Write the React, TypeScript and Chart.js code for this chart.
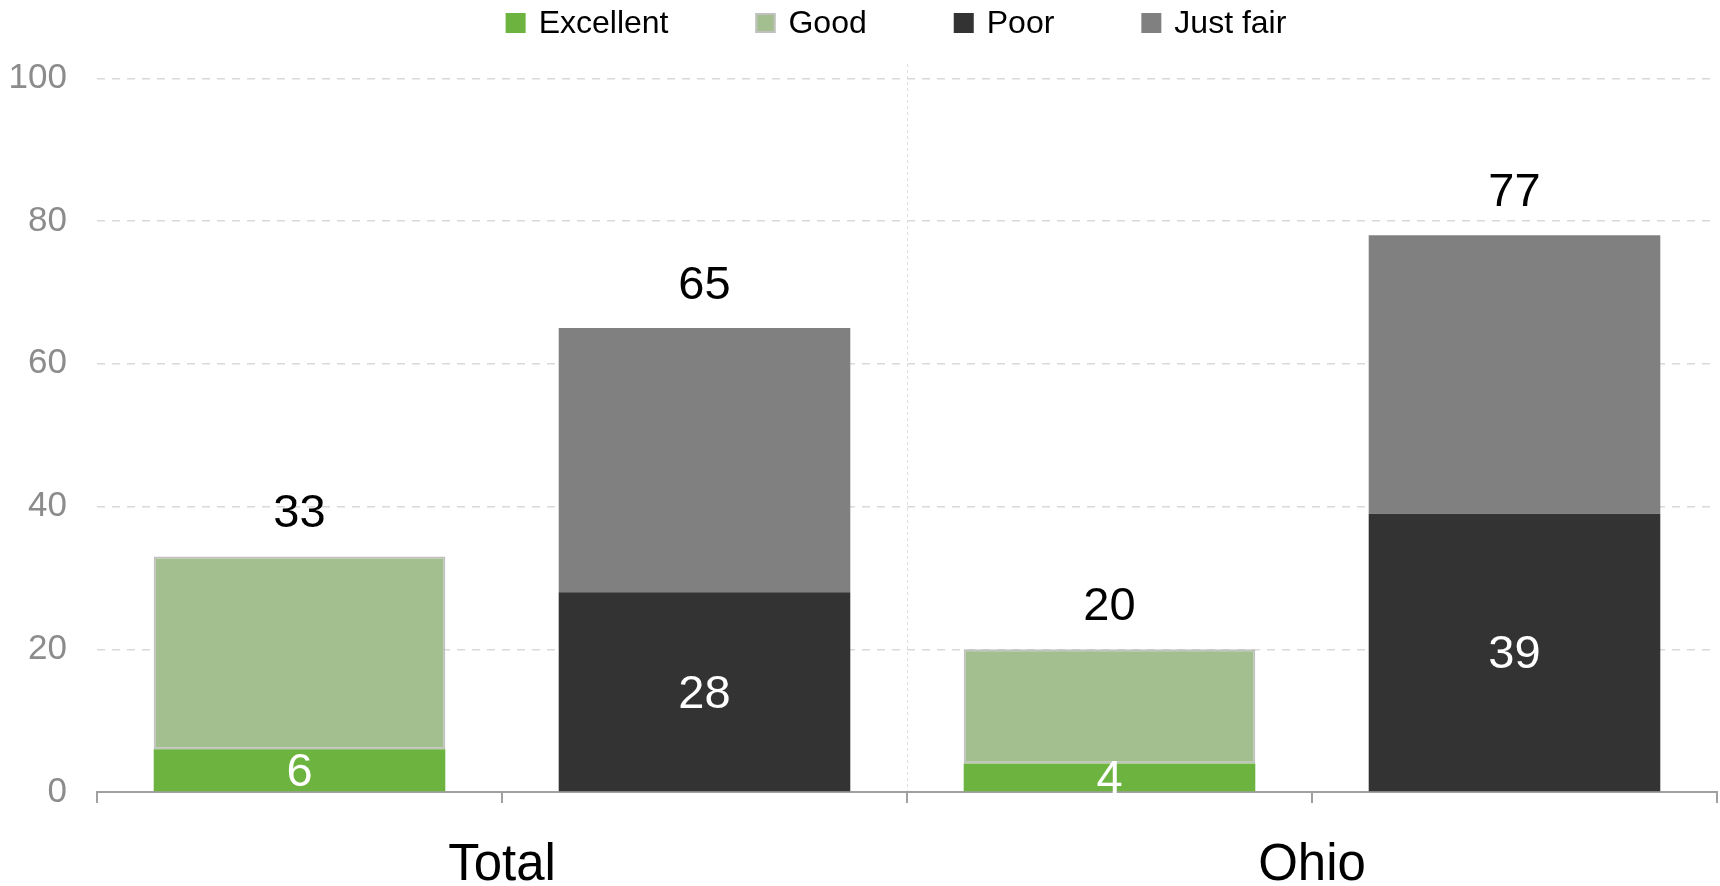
import React, { useEffect, useRef } from "react";
import { Chart, registerables } from "chart.js";

Chart.register(...registerables);

const slots = ["Total positive", "Total negative", "Ohio positive", "Ohio negative"];
const groups = ["Total", "Ohio"];
const excellent = [6, null, 4, null];
const good = [27, null, 16, null];
const poor = [null, 28, null, 39];
const justFair = [null, 37, null, 39];
const totals = [33, 65, 20, 77];
const yTicks = [0, 20, 40, 60, 80, 100];

const FONT = "'Liberation Sans', Arial, sans-serif";

const labelPlugin = {
  id: "valueLabels",
  afterDatasetsDraw(chart: any) {
    const ctx = chart.ctx;
    ctx.save();
    ctx.textAlign = "center";
    ctx.textBaseline = "middle";
    ctx.font = `47px ${FONT}`;
    [0, 2].forEach((di) => {
      const meta = chart.getDatasetMeta(di);
      const data = chart.data.datasets[di].data;
      meta.data.forEach((el: any, i: number) => {
        if (data[i] == null) return;
        const { x, y, base } = el.getProps(["x", "y", "base"], true);
        ctx.fillStyle = "#ffffff";
        ctx.fillText(String(data[i]), x, (y + base) / 2 + 3);
      });
    });
    totals.forEach((t, i) => {
      let top = Infinity;
      let cx = 0;
      chart.data.datasets.forEach((ds: any, di: number) => {
        if (ds.data[i] == null) return;
        const el = chart.getDatasetMeta(di).data[i];
        const { x, y } = el.getProps(["x", "y"], true);
        if (y < top) {
          top = y;
          cx = x;
        }
      });
      ctx.fillStyle = "#000000";
      ctx.fillText(String(t), cx, top - 42);
    });
    ctx.restore();
  },
};

const legendPlugin = {
  id: "topLegend",
  afterDraw(chart: any) {
    const ctx = chart.ctx;
    ctx.save();
    ctx.font = `32px ${FONT}`;
    ctx.textBaseline = "middle";
    ctx.textAlign = "left";
    const box = 20;
    const gap = 13;
    const spacing = 87;
    const items = chart.data.datasets.map((ds: any) => ({
      text: ds.label,
      fill: ds.backgroundColor,
      stroke: ds.borderWidth ? ds.borderColor : null,
      w: box + gap + ctx.measureText(ds.label).width,
    }));
    const total = items.reduce((s: number, it: any) => s + it.w, 0) + spacing * (items.length - 1);
    let x = 896 - total / 2;
    const cy = 23;
    items.forEach((it: any) => {
      ctx.fillStyle = it.fill;
      ctx.fillRect(x, cy - box / 2, box, box);
      if (it.stroke) {
        ctx.strokeStyle = it.stroke;
        ctx.lineWidth = 2;
        ctx.strokeRect(x + 1, cy - box / 2 + 1, box - 2, box - 2);
      }
      ctx.fillStyle = "#000000";
      ctx.fillText(it.text, x + box + gap, cy + 1);
      x += it.w + spacing;
    });
    ctx.restore();
  },
};

export default function App() {
  const ref = useRef<HTMLCanvasElement>(null);
  useEffect(() => {
    const chart = new Chart(ref.current as HTMLCanvasElement, {
      type: "bar",
      data: {
        labels: slots,
        datasets: [
          { label: "Excellent", data: excellent, backgroundColor: "#6db33f", borderWidth: 0 },
          {
            label: "Good",
            data: good,
            backgroundColor: "#a3bf8f",
            borderColor: "#c0c0c0",
            borderWidth: 2,
            borderSkipped: false,
          },
          { label: "Poor", data: poor, backgroundColor: "#333333", borderWidth: 0 },
          { label: "Just fair", data: justFair, backgroundColor: "#808080", borderWidth: 0 },
        ] as any,
      },
      options: {
        animation: false,
        responsive: true,
        maintainAspectRatio: false,
        layout: { padding: { left: 10, right: 3, top: 64, bottom: 0 } },
        datasets: { bar: { barPercentage: 0.72, categoryPercentage: 1 } },
        plugins: {
          tooltip: { enabled: false },
          legend: { display: false },
        },
        scales: {
          x: {
            stacked: true,
            offset: true,
            grid: {
              offset: true,
              drawOnChartArea: false,
              drawTicks: true,
              tickLength: 11,
              color: "#a0a0a0",
              lineWidth: 2,
            },
            border: { display: true, color: "#a0a0a0", width: 2 },
            ticks: { display: false },
            afterFit: (s: any) => {
              s.height = 11;
            },
          },
          x2: {
            type: "category",
            labels: groups,
            position: "bottom",
            offset: true,
            grid: {
              offset: true,
              drawOnChartArea: true,
              drawTicks: false,
              color: (c: any) => (c.index === 1 ? "#dedede" : "rgba(0,0,0,0)"),
              lineWidth: 1,
            },
            border: { display: false, dash: [3, 3] },
            ticks: { color: "#000000", font: { family: FONT, size: 51 }, padding: 32 },
            afterFit: (s: any) => {
              s.height = 83;
            },
          } as any,
          y: {
            stacked: true,
            min: 0,
            max: 102,
            afterBuildTicks: (scale: any) => {
              scale.ticks = yTicks.map((v) => ({ value: v }));
            },
            afterFit: (s: any) => {
              s.width = 87;
            },
            grid: { color: "#d9d9d9", lineWidth: 1.5, drawTicks: false },
            border: { display: false, dash: [8, 7] },
            ticks: { color: "#8c8c8c", font: { family: FONT, size: 35 }, padding: 30 },
          },
        },
      } as any,
      plugins: [labelPlugin, legendPlugin],
    });
    return () => chart.destroy();
  }, []);
  return (
    <div style={{ position: "absolute", left: 0, top: 0, width: 1720, height: 886 }}>
      <canvas ref={ref} />
    </div>
  );
}
